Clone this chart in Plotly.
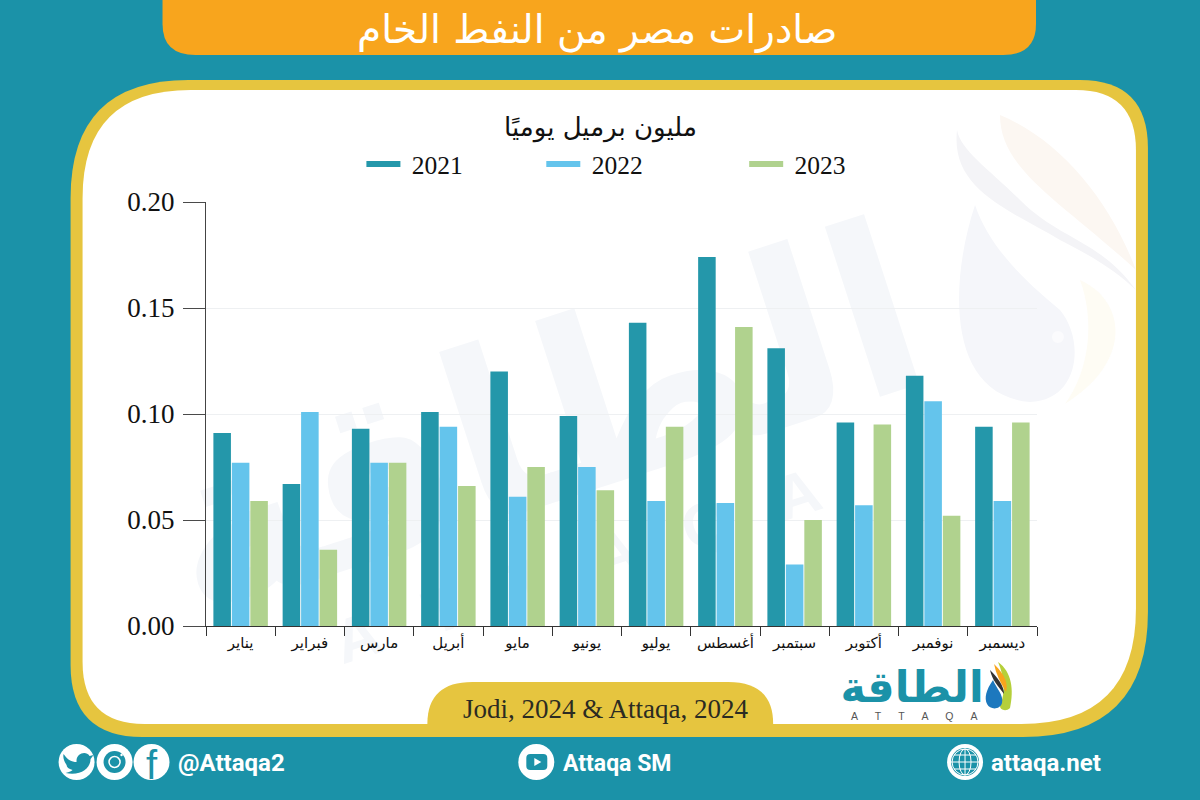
import plotly.graph_objects as go

months = ["يناير", "فبراير", "مارس", "أبريل", "مايو", "يونيو", "يوليو", "أغسطس", "سبتمبر", "أكتوبر", "نوفمبر", "ديسمبر"]
v2021 = [0.091, 0.067, 0.093, 0.101, 0.120, 0.099, 0.143, 0.174, 0.131, 0.096, 0.118, 0.094]
v2022 = [0.077, 0.101, 0.077, 0.094, 0.061, 0.075, 0.059, 0.058, 0.029, 0.057, 0.106, 0.059]
v2023 = [0.059, 0.036, 0.077, 0.066, 0.075, 0.064, 0.094, 0.141, 0.050, 0.095, 0.052, 0.096]
series_names = ["2021", "2022", "2023"]
series_colors = ["#2497AA", "#64C4EC", "#B0D28E"]
TITLE = "صادرات مصر من النفط الخام"
SUBTITLE = "مليون برميل يوميًا"
SOURCE = "Jodi, 2024 & Attaqa, 2024"

TEAL = "#1B92A8"
YEL = "#E6C53F"
ORANGE = "#F8A51D"
WM = "#F5F7FA"
AR = "DejaVu Sans"
SERIF = "Liberation Serif"
SANS = "Roboto"

L, R, T, B = 205.5, 1037.0, 202.0, 626.0
W, H = R - L, B - T
def X(px): return (px - L) / W
def Y(py): return 1 - (py - T) / H

def path(*cmds):
    out = []
    for c in cmds:
        if isinstance(c, str):
            out.append(c)
        else:
            pts = [f"{X(c[i]):.5f},{Y(c[i+1]):.5f}" for i in range(0, len(c), 2)]
            out.append(" ".join(pts))
    return " ".join(out)

shapes = []
def add_path(d, fill, layer="below", line=None, lw=0, opacity=1):
    shapes.append(dict(type="path", path=d, xref="paper", yref="paper", fillcolor=fill, layer=layer,
                       line=dict(color=line or "rgba(0,0,0,0)", width=lw), opacity=opacity))
def add_circle(cx, cy, r, fill, line=None, lw=0):
    shapes.append(dict(type="circle", xref="paper", yref="paper", x0=X(cx - r), x1=X(cx + r),
                       y0=Y(cy + r), y1=Y(cy - r), fillcolor=fill, layer="below",
                       line=dict(color=line or "rgba(0,0,0,0)", width=lw)))
def add_label(x0, y0, x1, y1, text, size, color, angle=0, font=AR, bold=False):
    t = f"<b>{text}</b>" if bold else text
    shapes.append(dict(type="rect", xref="paper", yref="paper", x0=X(x0), x1=X(x1), y0=Y(y1), y1=Y(y0),
                       fillcolor="rgba(0,0,0,0)", line=dict(width=0), layer="below",
                       label=dict(text=t, textangle=angle, textposition="middle center",
                                  font=dict(size=size, color=color, family=font))))

def panel(x0, y0, x1, y1, tl, tr, br, bl):
    return path("M", (x0 + tl, y0), "L", (x1 - tr, y0), "Q", (x1, y0, x1, y0 + tr), "L", (x1, y1 - br),
                "Q", (x1, y1, x1 - br, y1), "L", (x0 + bl, y1), "Q", (x0, y1, x0, y1 - bl),
                "L", (x0, y0 + tl), "Q", (x0, y0, x0 + tl, y0), "Z")

# panels
add_path(panel(70, 80, 1148, 737, 118, 68, 125, 72), YEL)
add_path(panel(82, 90, 1136, 724, 108, 60, 115, 62), "#FFFFFF")

# watermark
add_label(60, 190, 1010, 620, "الطاقة", 235, WM, angle=-18, bold=True)
add_label(150, 420, 1000, 700, "A   T   T   A   Q   A", 62, WM, angle=-18, font="Liberation Sans", bold=True)
add_path(path("M", (1000, 115), "C", (1000, 170, 1060, 200, 1136, 270), "C", (1110, 200, 1060, 140, 1000, 115), "Z"), "#FCF7F2")
add_path(path("M", (1080, 280), "C", (1125, 300, 1135, 360, 1065, 404), "C", (1090, 370, 1095, 320, 1080, 280), "Z"), "#FEFCF4")
add_path(path("M", (957, 130), "C", (950, 190, 1010, 210, 1060, 240), "C", (1090, 255, 1115, 270, 1136, 290),
              "C", (1100, 240, 1060, 240, 1020, 200), "C", (990, 170, 960, 150, 957, 130), "Z"), "#F4F4F7")
add_path(path("M", (975, 205), "C", (950, 280, 945, 395, 1030, 402), "C", (1080, 400, 1085, 340, 1060, 310),
              "C", (1030, 285, 990, 250, 975, 205), "Z"), "#F5F6FA")
add_circle(1058, 337, 6, "#FBFBFD")

# header
add_path(path("M", (162, 0), "L", (1036, 0), "L", (1036, 24), "Q", (1036, 55, 1003, 55), "L", (195, 55),
              "Q", (162, 55, 162, 24), "Z"), ORANGE)
# source tab
add_path(path("M", (427, 724), "Q", (427, 682, 472, 682), "L", (728, 682), "Q", (773, 682, 773, 724), "Z"), YEL)

# logo
add_label(830, 656, 994, 712, "الطاقة", 43, TEAL, bold=True)
add_path(path("M", (998, 662), "C", (1012, 672, 1014, 690, 1010, 708), "C", (1006, 712, 1000, 710, 1000, 706),
              "C", (1006, 692, 1004, 676, 998, 662), "Z"), "#B5CF3A")
add_path(path("M", (994, 664), "C", (1006, 676, 1008, 684, 1006, 692), "C", (1000, 682, 996, 674, 994, 664), "Z"), "#F8A51D")
add_path(path("M", (990, 670), "C", (998, 678, 1004, 686, 1004, 694), "C", (998, 686, 992, 680, 990, 670), "Z"), "#333333")
add_path(path("M", (993, 680), "C", (986, 690, 984, 698, 987, 704), "C", (990, 710, 1000, 710, 1002, 703),
              "C", (1004, 695, 996, 688, 993, 680), "Z"), "#1C78BE")

# footer icons
for cx in (76, 114, 151):
    add_circle(cx, 762, 18, "#FFFFFF")
add_path(path("M", (63, 754), "C", (67, 760, 71, 762, 76, 762), "C", (75, 754, 85, 750, 89, 756), "L", (93, 755),
              "L", (90, 759), "C", (90, 768, 81, 776, 65, 773), "C", (69, 772, 71, 771, 72, 770),
              "C", (68, 769, 66, 767, 66, 765), "C", (64, 762, 62, 758, 63, 754), "Z"), TEAL)
add_circle(114, 762, 11, TEAL)
add_circle(114, 762, 5.5, "rgba(0,0,0,0)", line="#FFFFFF", lw=1.5)
add_circle(121, 755, 1.2, "#FFFFFF")
add_label(136, 741, 166, 781, "f", 40, TEAL, font="Liberation Sans")
add_circle(536, 762, 18, "#FFFFFF")
add_path(path("M", (530, 754), "L", (543, 754), "Q", (547, 754, 547, 758), "L", (547, 766), "Q", (547, 770, 543, 770),
              "L", (530, 770), "Q", (526, 770, 526, 766), "L", (526, 758), "Q", (526, 754, 530, 754), "Z"), TEAL)
add_path(path("M", (534, 758), "L", (541, 762), "L", (534, 766), "Z"), "#FFFFFF")
add_circle(965, 762, 18, "#FFFFFF")
add_circle(965, 762, 14, TEAL)
add_circle(965, 762, 13, "rgba(0,0,0,0)", line="#FFFFFF", lw=1)
shapes.append(dict(type="circle", xref="paper", yref="paper", x0=X(959), x1=X(971), y0=Y(775), y1=Y(749),
                   fillcolor="rgba(0,0,0,0)", line=dict(color="#FFFFFF", width=1), layer="below"))
for yy, half in ((755, 11), (762, 14), (769, 11)):
    shapes.append(dict(type="line", xref="paper", yref="paper", x0=X(965 - half), x1=X(965 + half), y0=Y(yy), y1=Y(yy),
                       line=dict(color="#FFFFFF", width=1), layer="below"))
shapes.append(dict(type="line", xref="paper", yref="paper", x0=X(965), x1=X(965), y0=Y(749), y1=Y(775),
                   line=dict(color="#FFFFFF", width=1), layer="below"))

def note(px, py, text, size, color, font=AR, anchor="center"):
    return dict(x=X(px), y=Y(py), xref="paper", yref="paper", text=text, showarrow=False, xanchor=anchor,
                yanchor="middle", font=dict(size=size, color=color, family=font))

annotations = [
    note(597, 30, TITLE, 39, "#FFFFFF"),
    note(605, 709, SOURCE, 27, "#2B2B22", SERIF),
    note(914, 716, "A      T      T      A      Q      A", 10.5, "#555555", "Liberation Sans"),
    note(175, 763, "<b>@Attaqa2</b>", 24, "#FFFFFF", SANS, "left"),
    note(561, 763, "<b>Attaqa SM</b>", 23, "#FFFFFF", SANS, "left"),
    note(989, 763, "<b>attaqa.net</b>", 24, "#FFFFFF", SANS, "left"),
    note(600, 127, SUBTITLE, 26, "#111111"),
]

legend_ids = ["legend", "legend2", "legend3"]
legend_left = [361, 541, 744]

fig = go.Figure()
for name, vals, col, lid in zip(series_names, [v2021, v2022, v2023], series_colors, legend_ids):
    fig.add_trace(go.Bar(x=months, y=vals, name=name, marker=dict(color=col, line=dict(width=0)),
                         legendgroup=name, legend=lid, showlegend=False))
for name, col, lid in zip(series_names, series_colors, legend_ids):
    fig.add_trace(go.Scatter(x=[None], y=[None], mode="lines", name="\u00a0" + name, legendgroup=name, legend=lid,
                             line=dict(color=col, width=6), showlegend=True))

legend_layout = {
    lid: dict(orientation="h", x=X(px), xanchor="left", y=Y(141), yanchor="top", bgcolor="rgba(0,0,0,0)",
              font=dict(family=SERIF, size=25.5, color="#111111"), itemwidth=34)
    for lid, px in zip(legend_ids, legend_left)
}

fig.update_layout(
    width=1200, height=800,
    margin=dict(l=L, r=1200 - R, t=T, b=800 - B),
    paper_bgcolor=TEAL, plot_bgcolor="rgba(0,0,0,0)",
    barmode="group", bargap=0.2, bargroupgap=0.05,
    showlegend=True,
    shapes=shapes, annotations=annotations,
    xaxis=dict(type="category", categoryorder="array", categoryarray=months, tickson="boundaries",
               ticks="outside", ticklen=9, tickcolor="#333333", showline=True, linecolor="#333333", linewidth=1,
               showgrid=False, zeroline=False, ticklabelstandoff=3,
               tickfont=dict(family=AR, size=15, color="#111111")),
    yaxis=dict(range=[0, 0.2], tick0=0, dtick=0.05, tickformat=".2f", ticks="outside", ticklen=22,
               tickcolor="#4A4A4A", showline=True, linecolor="#444444", linewidth=1, showgrid=True,
               gridcolor="#EEF0F2", gridwidth=1, zeroline=False, ticklabelstandoff=3,
               tickfont=dict(family=SERIF, size=27, color="#111111")),
    **legend_layout,
)
fig.write_html("out.html", config=dict(displayModeBar=False), post_script="document.body.style.margin='0';")
